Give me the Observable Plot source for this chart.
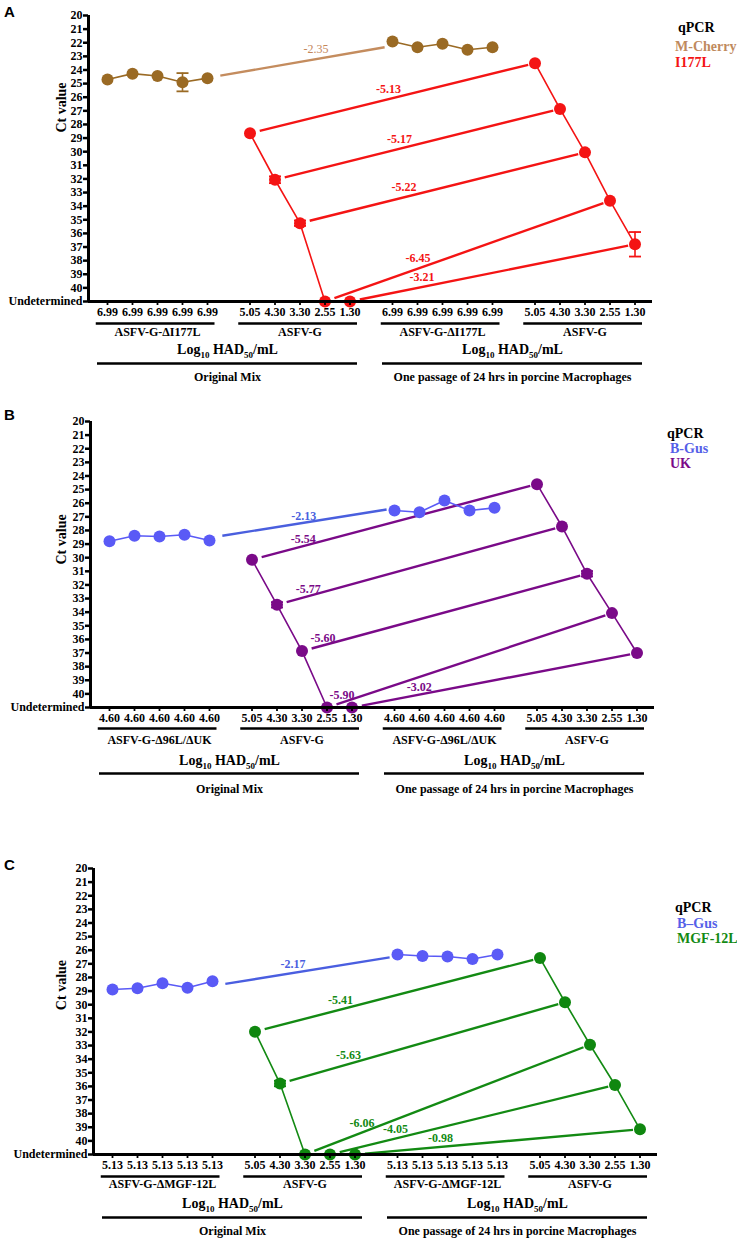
<!DOCTYPE html>
<html><head><meta charset="utf-8">
<script src="https://cdn.jsdelivr.net/npm/d3@7"></script>
<script src="https://cdn.jsdelivr.net/npm/@observablehq/plot@0.6"></script>
<style>
body{margin:0;background:#fff;}
#page{position:relative;width:737px;height:1239px;overflow:hidden;background:#fff;}
#page svg text, #page svg tspan{font-family:'Liberation Serif','Times New Roman',serif !important;font-weight:bold;}
.letter{position:absolute;left:4px;font:bold 15px Arial,'Liberation Sans',sans-serif;line-height:16px;}
.leg{position:absolute;font:bold 14px 'Liberation Serif','Times New Roman',serif;line-height:16px;white-space:nowrap;}
</style></head><body><div id="page"></div>
<script>
// ---------- DATA ----------
const UND = 41;            // plotted row of "Undetermined"
const wtTiters = ["5.05","4.30","3.30","2.55","1.30"];

// Panel A: M-Cherry (control, ASFV-G-ΔI177L) and I177L (ASFV-G)
const A_mutTiters = ["6.99","6.99","6.99","6.99","6.99"];
const A_ctrlOrig = [24.70, 24.27, 24.44, 24.90, 24.60];
const A_ctrlOrigErr = [0, 0, 0, 0.67, 0];
const A_ctrlPass = [21.91, 22.33, 22.08, 22.52, 22.33];
const A_ctrlPassErr = [0, 0, 0, 0, 0];
const A_tgtOrig = [28.65, 32.06, 35.25, null, null];
const A_tgtOrigErr = [0, 0.25, 0.2, 0, 0];
const A_tgtPass = [23.50, 26.86, 30.05, 33.60, 36.80];
const A_tgtPassErr = [0, 0, 0, 0, 0.9];
const A_ctrlFold = "-2.35";
const A_tgtFold = ["-5.13", "-5.17", "-5.22", "-6.45", "-3.21"];

// Panel B: B-Gus (ASFV-G-Δ96L/ΔUK) and UK (ASFV-G)
const B_mutTiters = ["4.60","4.60","4.60","4.60","4.60"];
const B_ctrlOrig = [28.79, 28.39, 28.44, 28.32, 28.74];
const B_ctrlOrigErr = [0, 0, 0, 0, 0];
const B_ctrlPass = [26.53, 26.66, 25.80, 26.53, 26.34];
const B_ctrlPassErr = [0, 0, 0, 0, 0];
const B_tgtOrig = [30.15, 33.46, 36.86, null, null];
const B_tgtOrigErr = [0, 0.2, 0, 0, 0];
const B_tgtPass = [24.60, 27.71, 31.18, 34.07, 37.00];
const B_tgtPassErr = [0, 0, 0.2, 0, 0];
const B_ctrlFold = "-2.13";
const B_tgtFold = ["-5.54", "-5.77", "-5.60", "-5.90", "-3.02"];

// Panel C: B–Gus (ASFV-G-ΔMGF-12L) and MGF-12L (ASFV-G)
const C_mutTiters = ["5.13","5.13","5.13","5.13","5.13"];
const C_ctrlOrig = [28.89, 28.79, 28.42, 28.76, 28.28];
const C_ctrlOrigErr = [0, 0, 0, 0, 0];
const C_ctrlPass = [26.31, 26.43, 26.46, 26.65, 26.31];
const C_ctrlPassErr = [0, 0, 0, 0, 0];
const C_tgtOrig = [31.98, 35.79, null, null, null];
const C_tgtOrigErr = [0, 0.2, 0, 0, 0];
const C_tgtPass = [26.58, 29.82, 32.94, 35.90, 39.15];
const C_tgtPassErr = [0, 0, 0, 0, 0];
const C_ctrlFold = "-2.17";
const C_tgtFold = ["-5.41", "-5.63", "-6.06", "-4.05", "-0.98"];

// ---------- LAYOUT ----------
const G = 5.7;        // x distance between group starts
const XDOM = [-0.76, -0.76 + 564 / 25];
const panels = [
  {letter:"A", top:0, height:386, ml:88, mutName:"ASFV-G-ΔI177L", mutTiters:A_mutTiters,
   ctrlName:"M-Cherry", tgtName:"I177L",
   ctrlOrig:A_ctrlOrig, ctrlOrigErr:A_ctrlOrigErr, ctrlPass:A_ctrlPass, ctrlPassErr:A_ctrlPassErr,
   tgtOrig:A_tgtOrig, tgtOrigErr:A_tgtOrigErr, tgtPass:A_tgtPass, tgtPassErr:A_tgtPassErr,
   ctrlFold:A_ctrlFold, tgtFold:A_tgtFold,
   col:{ctrlDot:"#9a6a24", ctrlLink:"#c48c5e", ctrlLabel:"#c4865a", ctrlLegend:"#bf8a5e", tgt:"#f41414", tgtDot:"#f41414"},
   ctrlT:0.587, tgtT:[0.486,0.437,0.365,0.326,0.253], ldy:-10, ctrlLabelWeight:"normal",
   off:{grpLine:22, grpLabel:31, log:48, long:62, bottom:76}, ctY:28.6,
   legend:[{t:"qPCR",x:678,y:28},{t:"M-Cherry",x:675,y:47},{t:"I177L",x:675,y:63}], letterY:12},
  {letter:"B", top:406, height:400, ml:90, mutName:"ASFV-G-Δ96L/ΔUK", mutTiters:B_mutTiters,
   ctrlName:"B-Gus", tgtName:"UK",
   ctrlOrig:B_ctrlOrig, ctrlOrigErr:B_ctrlOrigErr, ctrlPass:B_ctrlPass, ctrlPassErr:B_ctrlPassErr,
   tgtOrig:B_tgtOrig, tgtOrigErr:B_tgtOrigErr, tgtPass:B_tgtPass, tgtPassErr:B_tgtPassErr,
   ctrlFold:B_ctrlFold, tgtFold:B_tgtFold,
   col:{ctrlDot:"#5a5af6", ctrlLink:"#4a5fde", ctrlLabel:"#4a5fde", ctrlLegend:"#5560e8", tgt:"#7a0a88", tgtDot:"#7a0a88"},
   ctrlT:0.51, tgtT:[0.18,0.11,0.074,0.053,0.236], ldy:-7, ctrlLabelWeight:"bold",
   off:{grpLine:21, grpLabel:33, log:53, long:66, bottom:82}, ctY:30.5,
   legend:[{t:"qPCR",x:667,y:434},{t:"B-Gus",x:670,y:449},{t:"UK",x:670,y:464}], letterY:415},
  {letter:"C", top:853, height:386, ml:93, mutName:"ASFV-G-ΔMGF-12L", mutTiters:C_mutTiters,
   ctrlName:"B–Gus", tgtName:"MGF-12L",
   ctrlOrig:C_ctrlOrig, ctrlOrigErr:C_ctrlOrigErr, ctrlPass:C_ctrlPass, ctrlPassErr:C_ctrlPassErr,
   tgtOrig:C_tgtOrig, tgtOrigErr:C_tgtOrigErr, tgtPass:C_tgtPass, tgtPassErr:C_tgtPassErr,
   ctrlFold:C_ctrlFold, tgtFold:C_tgtFold,
   col:{ctrlDot:"#5a5af6", ctrlLink:"#4a5ee0", ctrlLabel:"#4a5ee0", ctrlLegend:"#5560e8", tgt:"#138a13", tgtDot:"#0f870f"},
   ctrlT:0.435, tgtT:[0.30,0.24,0.20,0.23,0.30], ldy:-9, ctrlLabelWeight:"bold",
   off:{grpLine:22, grpLabel:30, log:49, long:63, bottom:77}, ctY:30.4,
   legend:[{t:"qPCR",x:675,y:908},{t:"B–Gus",x:677,y:924},{t:"MGF-12L",x:677,y:939}], letterY:865}
];

const page = document.getElementById("page");
const yv = v => v == null ? UND : v;
const gx = (g, i) => g * G + i;
const mean = a => d3.mean(a);
const SERIF = "'Liberation Serif','Times New Roman',serif";

function build(p) {
  const marks = [];
  const allX = [], allLab = [];
  [p.mutTiters, wtTiters, p.mutTiters, wtTiters].forEach((labs, g) => labs.forEach((l, i) => { allX.push(gx(g, i)); allLab.push(l); }));

  // fold-change links
  const ctrlLink = [{x1:gx(0,4), y1:mean(p.ctrlOrig), x2:gx(2,0), y2:mean(p.ctrlPass), t:p.ctrlT, text:p.ctrlFold}];
  const tgtLinks = p.tgtOrig.map((v, i) => ({x1:gx(1,i), y1:yv(v), x2:gx(3,i), y2:yv(p.tgtPass[i]), t:p.tgtT[i], text:p.tgtFold[i]}));
  marks.push(Plot.arrow(ctrlLink, {x1:"x1", y1:"y1", x2:"x2", y2:"y2", stroke:p.col.ctrlLink, strokeWidth:2.4, headLength:0, insetStart:13, insetEnd:8, strokeLinecap:"butt"}));
  marks.push(Plot.arrow(tgtLinks, {x1:"x1", y1:"y1", x2:"x2", y2:"y2", stroke:p.col.tgt, strokeWidth:2.4, headLength:0, insetStart:10, insetEnd:7, strokeLinecap:"butt"}));
  const lx = d => d.x1 + d.t * (d.x2 - d.x1), ly = d => d.y1 + d.t * (d.y2 - d.y1);
  marks.push(Plot.text(ctrlLink, {x:lx, y:ly, text:"text", fill:p.col.ctrlLabel, dy:p.ldy, fontSize:12, fontFamily:SERIF}));
  marks.push(Plot.text(tgtLinks, {x:lx, y:ly, text:"text", fill:p.col.tgt, dy:p.ldy, fontSize:12, fontFamily:SERIF}));

  // series
  const series = [
    {g:0, vals:p.ctrlOrig, err:p.ctrlOrigErr, line:p.col.ctrlDot, dot:p.col.ctrlDot},
    {g:2, vals:p.ctrlPass, err:p.ctrlPassErr, line:p.col.ctrlDot, dot:p.col.ctrlDot},
    {g:1, vals:p.tgtOrig, err:p.tgtOrigErr, line:p.col.tgt, dot:p.col.tgtDot},
    {g:3, vals:p.tgtPass, err:p.tgtPassErr, line:p.col.tgt, dot:p.col.tgtDot}
  ];
  for (const s of series) {
    const rows = s.vals.map((v, i) => ({x:gx(s.g, i), y:yv(v), e:s.err[i]}));
    marks.push(Plot.line(rows, {x:"x", y:"y", stroke:s.line, strokeWidth:1.6}));
    const er = rows.filter(r => r.e > 0);
    marks.push(Plot.ruleX(er, {x:"x", y1:r => r.y - r.e, y2:r => r.y + r.e, stroke:s.dot, strokeWidth:1.6}));
    marks.push(Plot.link(er, {x1:r => r.x - 0.24, x2:r => r.x + 0.24, y1:r => r.y - r.e, y2:r => r.y - r.e, stroke:s.dot, strokeWidth:1.8}));
    marks.push(Plot.link(er, {x1:r => r.x - 0.24, x2:r => r.x + 0.24, y1:r => r.y + r.e, y2:r => r.y + r.e, stroke:s.dot, strokeWidth:1.8}));
    marks.push(Plot.dot(rows, {x:"x", y:"y", r:6, fill:s.dot, stroke:"none"}));
  }

  // axes
  marks.push(Plot.axisY({ticks:d3.range(20, 42), tickFormat:d => d === UND ? "Undetermined" : d, tickSize:5, tickPadding:1, strokeWidth:2.5, label:null, fontSize:12, fontFamily:SERIF}));
  marks.push(Plot.axisX({ticks:allX, tickFormat:d => allLab[allX.findIndex(v => Math.abs(v - d) < 1e-6)], tickSize:4, tickPadding:2, strokeWidth:1.8, label:null, fontSize:12, fontFamily:SERIF}));
  marks.push(Plot.ruleX([XDOM[0]], {y1:20, y2:UND, strokeWidth:3}));
  marks.push(Plot.ruleY([UND], {strokeWidth:3}));
  marks.push(Plot.text([p.ctY], {y:d => d, frameAnchor:"left", dx:61 - p.ml, text:() => "Ct value", rotate:-90, fontSize:14, fontFamily:SERIF}));

  // group annotations under the axis
  const groups = [p.mutName, "ASFV-G", p.mutName, "ASFV-G"].map((name, g) => ({name, a:gx(g,0) - 0.45, b:gx(g,4) + 0.3, c:gx(g,2)}));
  marks.push(Plot.ruleY(groups, {y:() => UND, x1:"a", x2:"b", dy:p.off.grpLine, strokeWidth:2.5}));
  marks.push(Plot.text(groups, {x:"c", y:() => UND, text:"name", dy:p.off.grpLabel, fontSize:12, fontFamily:SERIF}));
  const halves = [["Original Mix", 0, 1], ["One passage of 24 hrs in porcine Macrophages", 2, 3]].map(([t, g1, g2]) => {
    const a = gx(g1, 0) - 0.4, b = gx(g2, 4) + 0.3; return {t, a, b, c:(a + b) / 2};
  });
  marks.push(Plot.text(halves, {x:"c", y:() => UND, text:() => "Log10 HAD50/mL", dy:p.off.log, fontSize:14, fontFamily:SERIF}));
  marks.push(Plot.ruleY(halves, {y:() => UND, x1:"a", x2:"b", dy:p.off.long, strokeWidth:2.5}));
  marks.push(Plot.text(halves, {x:"c", y:() => UND, text:"t", dy:p.off.bottom, fontSize:12, fontFamily:SERIF}));

  const svg = Plot.plot({
    width:737, height:p.height, marginLeft:p.ml, marginRight:737 - p.ml - 564, marginTop:15, marginBottom:p.height - 15 - 286,
    x:{domain:XDOM}, y:{domain:[20, UND], reverse:true},
    style:{fontFamily:SERIF, fontWeight:"bold", fontSize:"12px", background:"transparent", overflow:"visible"},
    marks
  });
  svg.style.fontFamily = SERIF;
  svg.style.fontWeight = "bold";
  svg.querySelectorAll("text").forEach(t => {
    if (t.textContent === "Log10 HAD50/mL") {
      t.innerHTML = 'Log<tspan dy="4" font-size="9">10</tspan><tspan dy="-4"> HAD</tspan><tspan dy="4" font-size="9">50</tspan><tspan dy="-4">/mL</tspan>';
    }
  });
  svg.style.position = "absolute";
  svg.style.top = p.top + "px";
  svg.style.left = "0px";
  page.appendChild(svg);

  const L = document.createElement("div");
  L.className = "letter"; L.textContent = p.letter; L.style.top = (p.letterY - 8) + "px";
  page.appendChild(L);
  p.legend.forEach((e, k) => {
    const d = document.createElement("div");
    d.className = "leg"; d.textContent = e.t;
    d.style.left = e.x + "px"; d.style.top = (e.y - 8) + "px";
    d.style.color = k === 0 ? "#000" : (k === 1 ? p.col.ctrlLegend : p.col.tgt);
    page.appendChild(d);
  });
}
panels.forEach(build);
// control fold label in panel A is regular weight
document.querySelectorAll("#page svg text").forEach(t => { if (t.textContent === "-2.35") t.style.setProperty("font-weight", "normal", "important"); });
</script>
</body></html>
